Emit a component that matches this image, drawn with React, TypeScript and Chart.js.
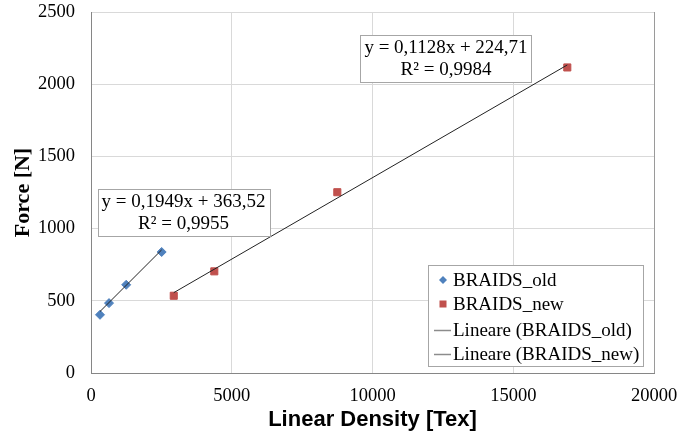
import React, { useEffect, useRef } from "react";
import { Chart, registerables } from "chart.js";

Chart.register(...registerables);

// Measured braids: linear density [Tex] vs breaking force [N]
const oldDensity = [320, 640, 1250, 2510];
const oldForce = [403, 484, 611, 838];
const newDensity = [2940, 4380, 8750, 16920];
const newForce = [535, 704, 1252, 2116];

// Linear regression results shown on the chart
const oldSlope = 0.1949;
const oldIntercept = 363.52;
const newSlope = 0.1128;
const newIntercept = 224.71;
const oldEquation = ["y = 0,1949x + 363,52", "R² = 0,9955"];
const newEquation = ["y = 0,1128x + 224,71", "R² = 0,9984"];

const seriesLabels = ["BRAIDS_old", "BRAIDS_new", "Lineare (BRAIDS_old)", "Lineare (BRAIDS_new)"];
const xTickValues = [0, 5000, 10000, 15000, 20000];
const yTickValues = [0, 500, 1000, 1500, 2000, 2500];

const BLUE = "#4F81BD";
const RED = "#C0504D";
const TREND = "#222222";
const SERIF = "'Liberation Serif', 'Times New Roman', serif";
const SANS = "'Liberation Sans', Arial, sans-serif";

const toPoints = (xs: number[], ys: number[]) => xs.map((x, i) => ({ x, y: ys[i] }));
const trendPoints = (xs: number[], slope: number, intercept: number) => {
  const lo = Math.min(...xs);
  const hi = Math.max(...xs);
  return [
    { x: lo, y: slope * lo + intercept },
    { x: hi, y: slope * hi + intercept },
  ];
};

// Equation boxes: anchored at (center x, top y) in data units
const equationBoxes = [
  { lines: oldEquation, cx: 3286, top: 1271 },
  { lines: newEquation, cx: 12611, top: 2340 },
];

const overlayPlugin = {
  id: "overlay",
  afterDraw(chart: any) {
    const { ctx, chartArea, scales } = chart;
    const area = chartArea;
    ctx.save();

    // equation text boxes
    ctx.font = `19px ${SERIF}`;
    ctx.textAlign = "center";
    ctx.textBaseline = "middle";
    for (const box of equationBoxes) {
      const cx = scales.x.getPixelForValue(box.cx);
      const top = scales.y.getPixelForValue(box.top);
      const w = Math.max(...box.lines.map((l: string) => ctx.measureText(l).width)) + 8;
      const h = 47;
      const bx = Math.round(cx - w / 2) + 0.5;
      const by = Math.round(top) + 0.5;
      ctx.fillStyle = "#ffffff";
      ctx.fillRect(bx, by, Math.round(w), h);
      ctx.strokeStyle = "#a6a6a6";
      ctx.lineWidth = 1;
      ctx.strokeRect(bx, by, Math.round(w), h);
      ctx.fillStyle = "#000000";
      box.lines.forEach((line: string, i: number) => {
        ctx.fillText(line, cx, top + 13 + i * 22);
      });
    }

    // legend
    const lw = 215;
    const lh = 101;
    const lx = area.right - 11 - lw;
    const ly = area.bottom - 7 - lh;
    ctx.fillStyle = "#ffffff";
    ctx.fillRect(Math.round(lx) + 0.5, Math.round(ly) + 0.5, lw, lh);
    ctx.strokeStyle = "#a6a6a6";
    ctx.strokeRect(Math.round(lx) + 0.5, Math.round(ly) + 0.5, lw, lh);
    ctx.textAlign = "left";
    ctx.textBaseline = "middle";
    ctx.font = `19px ${SERIF}`;
    const rows = [15, 39, 65, 89];
    seriesLabels.forEach((label, i) => {
      const y = ly + rows[i];
      const mx = lx + 15;
      if (i === 0) {
        ctx.fillStyle = BLUE;
        ctx.beginPath();
        ctx.moveTo(mx, y - 4);
        ctx.lineTo(mx + 4, y);
        ctx.lineTo(mx, y + 4);
        ctx.lineTo(mx - 4, y);
        ctx.closePath();
        ctx.fill();
      } else if (i === 1) {
        ctx.fillStyle = RED;
        ctx.fillRect(mx - 3.5, y - 3.5, 7, 7);
      } else {
        ctx.strokeStyle = "#8c8c8c";
        ctx.lineWidth = 1.5;
        ctx.beginPath();
        ctx.moveTo(lx + 6, y + 0.5);
        ctx.lineTo(lx + 23, y + 0.5);
        ctx.stroke();
      }
      ctx.fillStyle = "#000000";
      ctx.fillText(label, lx + 25, y + 1);
    });

    // axis titles
    ctx.fillStyle = "#000000";
    ctx.textAlign = "center";
    ctx.textBaseline = "middle";
    ctx.font = `bold 22px ${SANS}`;
    ctx.fillText("Linear Density [Tex]", (area.left + area.right) / 2 + 0, area.bottom + 47);
    ctx.save();
    ctx.translate(23, (area.top + area.bottom) / 2);
    ctx.rotate(-Math.PI / 2);
    ctx.font = `bold 22px ${SERIF}`;
    ctx.fillText("Force [N]", 0, 0);
    ctx.restore();

    ctx.restore();
  },
};

export default function App() {
  const canvasRef = useRef<HTMLCanvasElement | null>(null);

  useEffect(() => {
    document.body.style.margin = "0";
    const canvas = canvasRef.current;
    if (!canvas) return;

    const chart = new Chart(canvas, {
      type: "scatter",
      data: {
        datasets: [
          {
            label: seriesLabels[0],
            data: toPoints(oldDensity, oldForce),
            backgroundColor: BLUE,
            borderColor: BLUE,
            pointStyle: "rectRot",
            pointRadius: 4.5,
            order: 1,
          },
          {
            label: seriesLabels[1],
            data: toPoints(newDensity, newForce),
            backgroundColor: RED,
            borderColor: RED,
            pointStyle: "rect",
            pointRadius: 5,
            order: 1,
          },
          {
            type: "line",
            label: seriesLabels[2],
            data: trendPoints(oldDensity, oldSlope, oldIntercept),
            borderColor: TREND,
            borderWidth: 1,
            pointRadius: 0,
            showLine: true,
            fill: false,
            order: 0,
          } as any,
          {
            type: "line",
            label: seriesLabels[3],
            data: trendPoints(newDensity, newSlope, newIntercept),
            borderColor: TREND,
            borderWidth: 1,
            pointRadius: 0,
            showLine: true,
            fill: false,
            order: 0,
          } as any,
        ],
      },
      options: {
        animation: false,
        responsive: false,
        devicePixelRatio: 1,
        layout: { padding: { top: 12, right: 24, bottom: 0, left: 0 } },
        plugins: {
          legend: { display: false },
          tooltip: { enabled: false },
          title: { display: false },
        },
        scales: {
          x: {
            type: "linear",
            min: 0,
            max: 20000,
            afterBuildTicks: (scale: any) => {
              scale.ticks = xTickValues.map((v) => ({ value: v }));
            },
            afterFit: (scale: any) => {
              scale.height = 64;
              scale.paddingLeft = 0;
              scale.paddingRight = 0;
            },
            grid: {
              color: (c: any) => (c.tick && c.tick.value === 20000 ? "#9a9a9a" : "#d9d9d9"),
              lineWidth: 1,
              drawTicks: false,
            },
            border: { color: "#868686", width: 1 },
            ticks: {
              padding: 12,
              color: "#000000",
              font: { family: SERIF, size: 18.5 },
              maxRotation: 0,
              autoSkip: false,
              callback: (v: any) => String(v),
            },
          },
          y: {
            type: "linear",
            min: 0,
            max: 2500,
            afterBuildTicks: (scale: any) => {
              scale.ticks = yTickValues.map((v) => ({ value: v }));
            },
            afterFit: (scale: any) => {
              scale.width = 91;
              scale.paddingTop = 0;
              scale.paddingBottom = 0;
            },
            grid: { color: "#d9d9d9", lineWidth: 1, drawTicks: false },
            border: { color: "#868686", width: 1 },
            ticks: {
              padding: 16,
              color: "#000000",
              font: { family: SERIF, size: 18.5 },
              autoSkip: false,
              callback: (v: any) => String(v),
            },
          },
        },
      },
      plugins: [overlayPlugin],
    });

    return () => chart.destroy();
  }, []);

  return (
    <div style={{ position: "absolute", left: 0, top: 0, width: 678, height: 437, background: "#ffffff" }}>
      <canvas ref={canvasRef} width={678} height={437} style={{ display: "block" }} />
    </div>
  );
}
